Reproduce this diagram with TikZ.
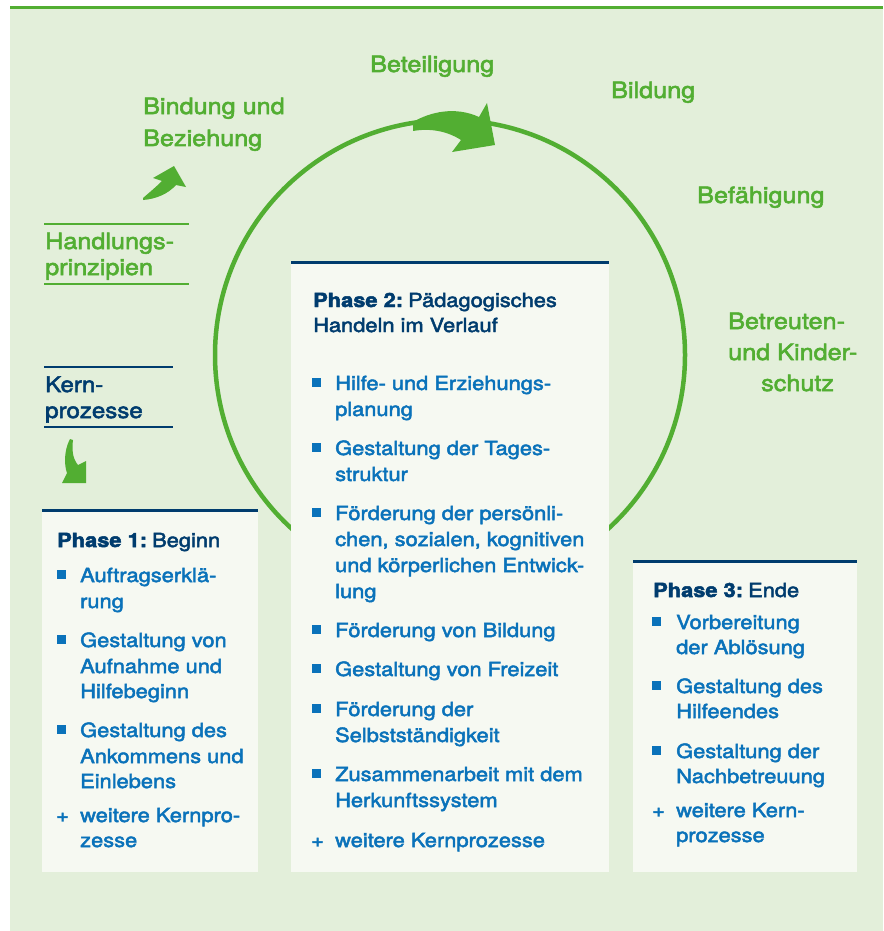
\documentclass[tikz,border=0pt]{standalone}
\usepackage{fontspec}
\setmainfont{TeX Gyre Heros}[FakeStretch=1.12, FakeBold=2.5]
\definecolor{bg}{HTML}{E3EFDA}
\definecolor{boxbg}{HTML}{F6F9F2}
\definecolor{grn}{HTML}{52AE32}
\definecolor{navy}{HTML}{003C6E}
\definecolor{blu}{HTML}{0A72BA}
\newcommand\bsq[2]{\fill[blu] (#1,#2-12.5) rectangle ++(9,9);}
\begin{document}
\begin{tikzpicture}[x=1pt,y=-1pt,
  lbl/.style={anchor=base west, inner sep=0, text=grn, font=\fontsize{22.5}{27}\selectfont},
  klbl/.style={anchor=base west, inner sep=0, text=navy, font=\fontsize{21.5}{26}\selectfont},
  txt/.style={anchor=base west, inner sep=0, text=blu, font=\fontsize{19.5}{26}\selectfont},
  hdr/.style={anchor=base west, inner sep=0, text=navy, font=\fontsize{19.5}{26}\selectfont},
  boxrect/.style={fill=boxbg},
  topline/.style={draw=navy, line width=3pt},
  gline/.style={draw=grn, line width=2.5pt},
  nline/.style={draw=navy, line width=2.5pt}]
\useasboundingbox (0,0) rectangle (883,931);
% background
\fill[bg] (10,8) rectangle (883,931);
\draw[grn, line width=3pt] (10,8) -- (883,8);
% circle
\draw[grn, line width=4.5pt] (450,355) circle[radius=235pt];
% arrow on circle
\fill[grn] (413,122) .. controls (430,112) and (455,106) .. (479,117) -- (487,103) -- (495,145) -- (452,152) -- (461,140)
  .. controls (447,131) and (430,128) .. (413,131) -- cycle;
% small arrow up-right
\fill[grn] (143,198) .. controls (150,192) and (157,186) .. (162,181) -- (153,178) -- (174,166) -- (186,187) -- (176,185)
  .. controls (168,194) and (156,199) .. (143,200) -- cycle;
% small arrow down
\fill[grn] (70,439) -- (73,440) .. controls (72,448) and (72,458) .. (78,465) -- (86,461) -- (86,483) -- (62,483)
  -- (67,473) .. controls (64,465) and (64,450) .. (70,439) -- cycle;
% green labels
\node[lbl] (bet) at (370,72) {Beteiligung};
\node[lbl] (bil) at (611,98) {Bildung};
\node[lbl] (bef) at (697,203) {Befähigung};
\node[lbl] (btr1) at (728,329) {Betreuten-};
\node[lbl] (btr2) at (728,360) {und Kinder-};
\node[lbl] (btr3) at (761,391) {schutz};
\node[lbl] (bin1) at (143,114) {Bindung und};
\node[lbl] (bin2) at (143,146) {Beziehung};
% Handlungsprinzipien
\draw[gline] (44,224) -- (189,224);
\draw[gline] (44,284) -- (189,284);
\node[lbl] (hp1) at (45,249) {Handlungs-};
\node[lbl] (hp2) at (45,275) {prinzipien};
% Kernprozesse
\draw[nline] (44,367) -- (173,367);
\draw[nline] (44,427) -- (173,427);
\node[klbl] (kp1) at (45,392) {Kern-};
\node[klbl] (kp2) at (45,418) {prozesse};
% Box 1
\fill[boxrect] (42,510) rectangle (258,872);
\draw[topline] (42,510) -- (258,510);
\node[hdr] (p1) at (57,547) {\textbf{Phase 1:}\hspace{-0.15em} Beginn};
\bsq{57}{582}
\node[txt] (a1) at (80,582) {Auftragserklä-};
\node[txt] (a2) at (80,608) {rung};
\bsq{57}{647}
\node[txt] (a3) at (80,647) {Gestaltung von};
\node[txt] (a4) at (80,673) {Aufnahme und};
\node[txt] (a5) at (80,698) {Hilfebeginn};
\bsq{57}{737}
\node[txt] (a6) at (80,737) {Gestaltung des};
\node[txt] (a7) at (80,763) {Ankommens und};
\node[txt] (a8) at (80,788) {Einlebens};
\node[txt] (ap) at (56,822) {+};
\node[txt] (a9) at (80,822) {weitere Kernpro-};
\node[txt] (a10) at (80,847) {zesse};
% Box 2
\fill[boxrect] (291,262) rectangle (609,872);
\draw[topline] (291,262) -- (609,262);
\node[hdr] (p2a) at (313,307) {\textbf{Phase 2:}\hspace{-0.15em} Pädagogisches};
\node[hdr] (p2b) at (313,332) {Handeln im Verlauf};
\bsq{312}{390}
\node[txt] (b1) at (335,390) {Hilfe- und Erziehungs-};
\node[txt] (b2) at (335,416) {planung};
\bsq{312}{455}
\node[txt] (b3) at (335,455) {Gestaltung der Tages-};
\node[txt] (b4) at (335,481) {struktur};
\bsq{312}{520}
\node[txt] (b5) at (335,520) {Förderung der persönli-};
\node[txt] (b6) at (335,546) {chen, sozialen, kognitiven};
\node[txt] (b7) at (335,572) {und körperlichen Entwick-};
\node[txt] (b8) at (335,598) {lung};
\bsq{312}{637}
\node[txt] (b9) at (335,637) {Förderung von Bildung};
\bsq{312}{676}
\node[txt] (b10) at (335,676) {Gestaltung von Freizeit};
\bsq{312}{716}
\node[txt] (b11) at (335,716) {Förderung der};
\node[txt] (b12) at (335,742) {Selbstständigkeit};
\bsq{312}{781}
\node[txt] (b13) at (335,781) {Zusammenarbeit mit dem};
\node[txt] (b14) at (335,807) {Herkunftssystem};
\node[txt] (bp) at (311,847) {+};
\node[txt] (b15) at (335,847) {weitere Kernprozesse};
% Box 3
\fill[boxrect] (633,561) rectangle (857,872);
\draw[topline] (633,561) -- (857,561);
\node[hdr] (p3) at (653,597) {\textbf{Phase 3:}\hspace{-0.15em} Ende};
\bsq{652}{629}
\node[txt] (c1) at (676,629) {Vorbereitung};
\node[txt] (c2) at (676,654) {der Ablösung};
\bsq{652}{693}
\node[txt] (c3) at (676,693) {Gestaltung des};
\node[txt] (c4) at (676,718) {Hilfeendes};
\bsq{652}{758}
\node[txt] (c5) at (676,758) {Gestaltung der};
\node[txt] (c6) at (676,783) {Nachbetreuung};
\node[txt] (cp) at (652,817) {+};
\node[txt] (c7) at (676,817) {weitere Kern-};
\node[txt] (c8) at (676,842) {prozesse};
\end{tikzpicture}
\end{document}
